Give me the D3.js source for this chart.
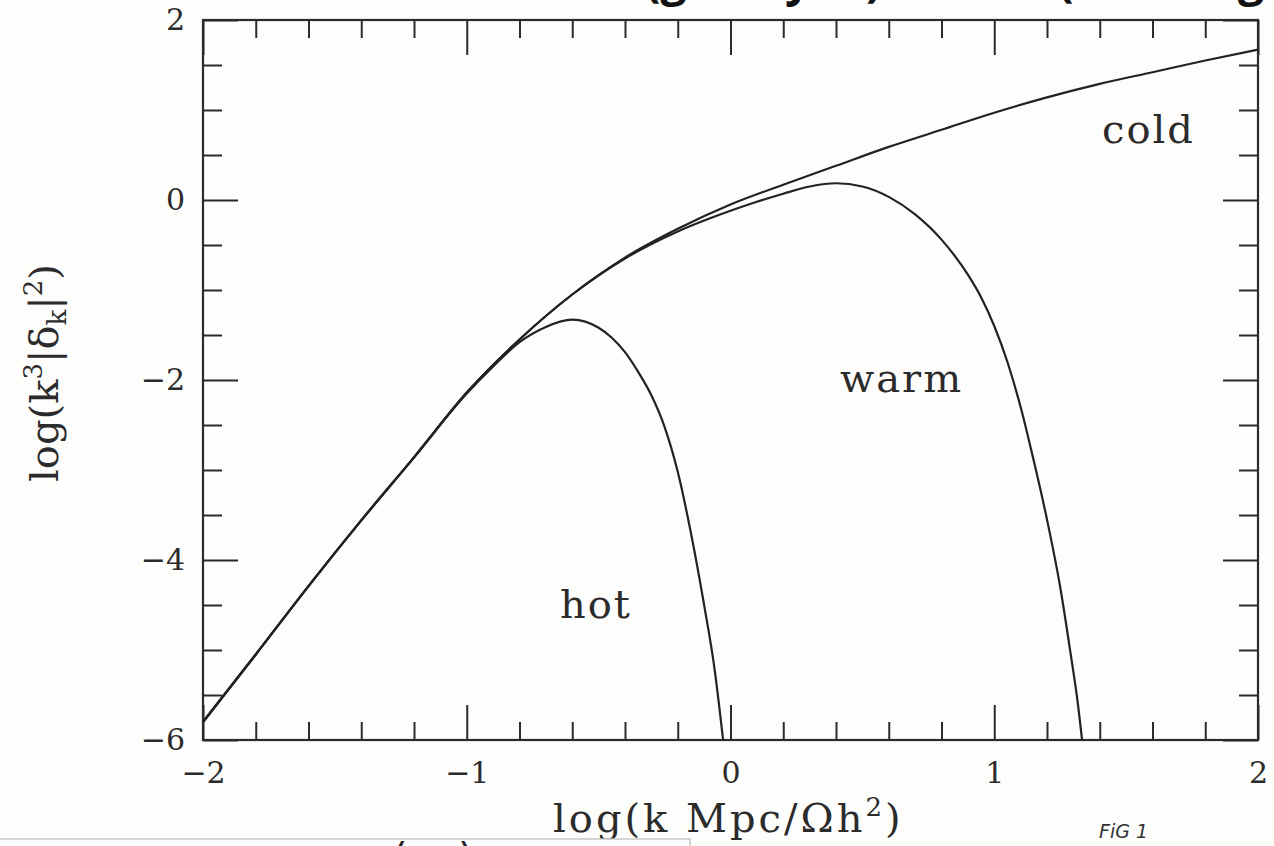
<!DOCTYPE html>
<html>
<head>
<meta charset="utf-8">
<script src="https://cdn.jsdelivr.net/npm/d3@7"></script>
<style>
  body { margin: 0; background: #fdfdfc; }
  svg { display: block; }
  .axis path { display: none; }
  .axis line { stroke: #2b2b2b; stroke-width: 2px; }
  .axis text { font-family: "DejaVu Serif", serif; font-size: 30px; fill: #2b2b2b; }
  .curve { fill: none; stroke: #222; stroke-width: 2.2px; }
  .label { font-family: "DejaVu Serif", serif; font-size: 40px; fill: #2b2b2b; }
</style>
</head>
<body>
<svg id="chart" width="1274" height="846"></svg>
<script>
// x positions (log k) and curve values (log k^3|delta_k|^2)
const coldX = [-2.0, -1.8, -1.6, -1.4, -1.2, -1.0, -0.8, -0.6, -0.4, -0.2, 0.0, 0.2, 0.4, 0.6, 0.8, 1.0, 1.2, 1.4, 1.6, 1.8, 2.0];
const coldY = [-5.80, -5.05, -4.29, -3.56, -2.86, -2.14, -1.55, -1.05, -0.64, -0.32, -0.05, 0.17, 0.38, 0.59, 0.78, 0.97, 1.14, 1.29, 1.42, 1.55, 1.67];

const warmX = [-2.0, -1.8, -1.6, -1.4, -1.2, -1.0, -0.8, -0.6, -0.4, -0.2, 0.0, 0.1, 0.2, 0.3, 0.4, 0.5, 0.6, 0.7, 0.8, 0.9, 0.95, 1.0, 1.05, 1.1, 1.15, 1.2, 1.25, 1.29, 1.315, 1.333];
const warmY = [-5.80, -5.05, -4.29, -3.56, -2.86, -2.14, -1.55, -1.05, -0.65, -0.35, -0.12, -0.02, 0.07, 0.15, 0.186, 0.15, 0.035, -0.16, -0.44, -0.83, -1.08, -1.40, -1.80, -2.30, -2.90, -3.55, -4.30, -5.05, -5.55, -6.0];

const hotX = [-2.0, -1.8, -1.6, -1.4, -1.2, -1.0, -0.9, -0.8, -0.7, -0.6, -0.5, -0.45, -0.4, -0.35, -0.3, -0.25, -0.2, -0.15, -0.1, -0.06, -0.028];
const hotY = [-5.80, -5.05, -4.29, -3.56, -2.86, -2.15, -1.85, -1.58, -1.41, -1.33, -1.42, -1.53, -1.69, -1.91, -2.17, -2.52, -3.02, -3.70, -4.50, -5.22, -6.0];

// tick values
const xMajor = [-2, -1, 0, 1, 2];
const xMinor = [-1.8, -1.6, -1.4, -1.2, -0.8, -0.6, -0.4, -0.2, 0.2, 0.4, 0.6, 0.8, 1.2, 1.4, 1.6, 1.8];
const yMajor = [-6, -4, -2, 0, 2];
const yMinor = [-5.5, -5, -4.5, -3.5, -3, -2.5, -1.5, -1, -0.5, 0.5, 1, 1.5];

const svg = d3.select("#chart");

// plot frame
const plotLeft = 203, plotRight = 1258, plotTop = 20, plotBottom = 740;

const x = d3.scaleLinear().domain([-2, 2]).range([plotLeft, plotRight]);
const y = d3.scaleLinear().domain([-6, 2]).range([plotBottom, plotTop]);

// Bottom axis, major ticks with labels
const gBottom = svg.append("g").attr("class", "axis").attr("transform", "translate(0," + plotBottom + ")");
gBottom.call(d3.axisBottom(x).tickValues(xMajor).tickSizeInner(-35).tickSizeOuter(0).tickPadding(22).tickFormat(d3.format("d")));
gBottom.append("g").call(d3.axisBottom(x).tickValues(xMinor).tickSizeInner(-18).tickSizeOuter(0).tickFormat(""));

// Top axis, no labels
const gTop = svg.append("g").attr("class", "axis").attr("transform", "translate(0," + plotTop + ")");
gTop.call(d3.axisTop(x).tickValues(xMajor).tickSizeInner(-35).tickSizeOuter(0).tickFormat(""));
gTop.append("g").call(d3.axisTop(x).tickValues(xMinor).tickSizeInner(-18).tickSizeOuter(0).tickFormat(""));

// Left axis
const gLeft = svg.append("g").attr("class", "axis").attr("transform", "translate(" + plotLeft + ",0)");
gLeft.call(d3.axisLeft(y).tickValues(yMajor).tickSizeInner(-35).tickSizeOuter(0).tickPadding(18).tickFormat(d3.format("d")));
gLeft.append("g").call(d3.axisLeft(y).tickValues(yMinor).tickSizeInner(-19).tickSizeOuter(0).tickFormat(""));

// Right axis
const gRight = svg.append("g").attr("class", "axis").attr("transform", "translate(" + plotRight + ",0)");
gRight.call(d3.axisRight(y).tickValues(yMajor).tickSizeInner(-35).tickSizeOuter(0).tickFormat(""));
gRight.append("g").call(d3.axisRight(y).tickValues(yMinor).tickSizeInner(-19).tickSizeOuter(0).tickFormat(""));

// Frame
svg.append("rect")
    .attr("x", plotLeft).attr("y", plotTop)
    .attr("width", plotRight - plotLeft).attr("height", plotBottom - plotTop)
    .attr("fill", "none").attr("stroke", "#2b2b2b").attr("stroke-width", 2.2);

// Curves
const line = d3.line()
    .x(d => x(d[0]))
    .y(d => y(d[1]))
    .curve(d3.curveMonotoneX);

[[coldX, coldY], [warmX, warmY], [hotX, hotY]].forEach(function (s) {
    svg.append("path")
        .attr("class", "curve")
        .attr("d", line(d3.zip(s[0], s[1])));
});

// Curve labels
svg.append("text").attr("class", "label").attr("x", 1102).attr("y", 143).style("letter-spacing", "2px").text("cold");
svg.append("text").attr("class", "label").attr("x", 840).attr("y", 392).style("letter-spacing", "2px").text("warm");
svg.append("text").attr("class", "label").attr("x", 560).attr("y", 618).style("letter-spacing", "2px").text("hot");

// Axis titles
const xTitle = svg.append("text").attr("class", "label")
    .attr("x", 553).attr("y", 832).style("letter-spacing", "3px");
xTitle.append("tspan").text("log(k  Mpc/Ωh");
xTitle.append("tspan").attr("dy", -16).style("font-size", "26px").text("2");
xTitle.append("tspan").attr("dy", 16).text(")");

const yTitle = svg.append("text").attr("class", "label")
    .attr("transform", "translate(58,373) rotate(-90)")
    .attr("text-anchor", "middle");
yTitle.append("tspan").text("log(k");
yTitle.append("tspan").attr("dy", -16).style("font-size", "26px").text("3");
yTitle.append("tspan").attr("dy", 16).text("|δ");
yTitle.append("tspan").attr("dy", 8).style("font-size", "26px").text("k");
yTitle.append("tspan").attr("dy", -8).text("|");
yTitle.append("tspan").attr("dy", -16).style("font-size", "26px").text("2");
yTitle.append("tspan").attr("dy", 16).text(")");

// handwritten figure mark
svg.append("text")
    .attr("x", 1099).attr("y", 838)
    .style("font-family", "DejaVu Sans, sans-serif").style("font-size", "19px")
    .style("font-style", "italic").style("fill", "#333")
    .text("FiG 1");

// bits of the page around the scan (cut off by the crop)
svg.append("rect").attr("x", -2).attr("y", 839).attr("width", 692).attr("height", 20)
    .attr("fill", "#ffffff").attr("stroke", "#c8c8c8").attr("stroke-width", 1.5);
svg.append("text").attr("x", 392).attr("y", 872).style("font-family", "DejaVu Sans, sans-serif")
    .style("font-size", "40px").style("fill", "#222").text("(");
svg.append("text").attr("x", 458).attr("y", 872).style("font-family", "DejaVu Sans, sans-serif")
    .style("font-size", "40px").style("fill", "#222").text(")");

const topBits = [["(g", 645], ["y", 785], [")", 866], ["(", 1058], ["g", 1238]];
topBits.forEach(function (b) {
    svg.append("text").attr("x", b[1]).attr("y", -4)
        .style("font-family", "Open Sans, sans-serif").style("font-weight", "bold")
        .style("font-size", "46px").style("fill", "#111").text(b[0]);
});
</script>
</body>
</html>
